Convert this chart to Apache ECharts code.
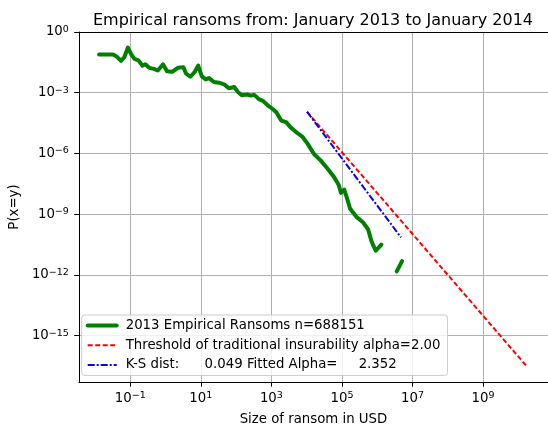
<!DOCTYPE html>
<html>
<head>
<meta charset="utf-8">
<script src="https://cdn.jsdelivr.net/npm/echarts@6/dist/echarts.min.js"></script>
<style>html,body{margin:0;padding:0;background:#fff}#c{width:548px;height:431px}</style>
</head>
<body>
<div id="c"></div>
<script>
// log10 of ransom size (USD) and log10 of P(x=y) for the empirical series (null = gap)
const empLogSize = [-1.885,-1.486,-1.391,-1.262,-1.167,-1.067,-0.972,-0.880,-0.768,-0.657,-0.573,-0.462,-0.330,-0.219,-0.071,0.041,0.189,0.348,0.507,0.580,0.702,0.822,0.926,1.026,1.138,1.233,1.372,1.512,1.660,1.791,1.947,2.050,2.162,2.302,2.422,2.517,2.645,2.757,2.888,3.036,3.139,3.279,3.418,3.538,3.650,3.725,3.884,4.024,4.208,4.395,4.582,4.766,4.906,4.973,5.065,5.140,5.232,5.419,5.603,5.743,5.838,5.958,6.117,6.330,6.552,6.703];
const empLogProb = [-1.107,-1.107,-1.205,-1.429,-1.234,-0.766,-1.107,-1.332,-1.400,-1.659,-1.595,-1.771,-1.820,-1.902,-1.595,-1.937,-1.966,-1.771,-1.741,-2.049,-2.210,-1.985,-1.659,-2.180,-2.341,-2.278,-2.473,-2.502,-2.585,-2.780,-2.717,-2.961,-3.122,-3.088,-3.137,-3.107,-3.317,-3.400,-3.610,-3.805,-3.966,-4.376,-4.454,-4.698,-4.863,-4.976,-5.185,-5.512,-6.024,-6.341,-6.732,-7.137,-7.546,-7.951,-7.790,-8.195,-8.732,-9.146,-9.415,-9.756,-10.341,-10.805,-10.502,null,-11.829,-11.317];
// threshold line (alpha = 2.00)
const thrLogSize = [4.01, 10.22];
const thrLogProb = [-3.94, -16.48];
// fitted power law (alpha = 2.352)
const fitLogSize = [4.01, 6.675];
const fitLogProb = [-3.94, -10.15];
// tick exponents
const xTickExp = [-1, 1, 3, 5, 7, 9];
const yTickExp = [0, -3, -6, -9, -12, -15];

const seriesNames = [
  '2013 Empirical Ransoms n=688151',
  'Threshold of traditional insurability alpha=2.00',
  'K-S dist:      0.049 Fitted Alpha=     2.352'
];

const FONT = 'DejaVu Sans';
const zip = (a, b) => a.map((v, i) => [v, b[i]]);
const fmt = v => {
  const e = Math.round(v);
  return '{b|10}{s|' + (e < 0 ? '\u2212' + (-e) : String(e)) + '}';
};
const rich = {
  b: {fontFamily: FONT, fontSize: 13.3, color: '#000', lineHeight: 15, verticalAlign: 'middle'},
  s: {fontFamily: FONT, fontSize: 9.5, color: '#000', lineHeight: 9, verticalAlign: 'top'}
};

const chart = echarts.init(document.getElementById('c'), null, {renderer: 'canvas'});
chart.setOption({
  animation: false,
  backgroundColor: '#fff',
  title: {
    text: 'Empirical ransoms from: January 2013 to January 2014',
    left: 308, top: 8, textAlign: 'center',
    textStyle: {fontFamily: FONT, fontSize: 16, fontWeight: 'normal', color: '#000'}
  },
  grid: {left: 74.5, top: 32, right: -3, bottom: 44.5, show: false},
  xAxis: [{
    type: 'value', min: -2.457, max: 10.84,
    name: 'Size of ransom in USD', nameLocation: 'middle', nameGap: 31,
    nameTextStyle: {fontFamily: FONT, fontSize: 13.3, color: '#000'},
    axisLine: {show: true, onZero: false, lineStyle: {color: '#000', width: 1}},
    axisTick: {show: true, customValues: xTickExp, length: 4.7, lineStyle: {color: '#000', width: 1}},
    axisLabel: {customValues: xTickExp, formatter: fmt, rich: rich, margin: 9},
    splitLine: {show: false}
  }, {
    type: 'value', position: 'top', min: -2.457, max: 10.84,
    axisLine: {show: true, onZero: false, lineStyle: {color: '#000', width: 1}},
    axisTick: {show: false}, axisLabel: {show: false}, splitLine: {show: false}
  }],
  yAxis: {
    type: 'value', min: -17.29, max: 0,
    name: 'P(x=y)', nameLocation: 'middle', nameGap: 49, nameRotate: 90,
    nameTextStyle: {fontFamily: FONT, fontSize: 13.3, color: '#000'},
    axisLine: {show: true, onZero: false, lineStyle: {color: '#000', width: 1}},
    axisTick: {show: true, customValues: yTickExp, length: 4.7, lineStyle: {color: '#000', width: 1}},
    axisLabel: {customValues: yTickExp, formatter: fmt, rich: rich, margin: 10},
    splitLine: {show: false}
  },
  legend: {
    data: [
      {name: seriesNames[0], lineStyle: {width: 4, color: '#008000'}},
      {name: seriesNames[1], lineStyle: {width: 2, color: '#ff0000', type: [5, 2.5]}},
      {name: seriesNames[2], lineStyle: {width: 2, color: '#0000ff', type: [7, 2, 2, 2]}}
    ],
    orient: 'vertical', left: 81.7, top: 315,
    padding: [4, 7, 4, 4], itemWidth: 29, itemHeight: 14, itemGap: 6.7,
    backgroundColor: 'rgba(255,255,255,0.8)', borderColor: '#cccccc', borderWidth: 1, borderRadius: 3,
    itemStyle: {opacity: 0},
    textStyle: {fontFamily: FONT, fontSize: 13.3, color: '#000', padding: [0, 0, 0, 4]}
  },
  series: [
    {
      name: '_grid', type: 'line', data: [], silent: true, z: 0,
      markLine: {
        silent: true, symbol: 'none', animation: false, z: 0,
        label: {show: false},
        lineStyle: {color: '#b0b0b0', width: 1, type: 'solid'},
        emphasis: {disabled: true},
        data: xTickExp.map(v => ({xAxis: v})).concat(yTickExp.map(v => ({yAxis: v})))
      }
    },
    {
      name: seriesNames[0], type: 'line', data: zip(empLogSize, empLogProb),
      showSymbol: false, symbol: 'none', connectNulls: false, z: 3,
      lineStyle: {color: '#008000', width: 4, cap: 'round', join: 'round'},
      itemStyle: {color: '#008000'}
    },
    {
      name: seriesNames[1], type: 'line', data: zip(thrLogSize, thrLogProb),
      showSymbol: false, symbol: 'none', z: 2,
      lineStyle: {color: '#ff0000', width: 2, type: [5, 2.5]},
      itemStyle: {color: '#ff0000'}
    },
    {
      name: seriesNames[2], type: 'line', data: zip(fitLogSize, fitLogProb),
      showSymbol: false, symbol: 'none', z: 2,
      lineStyle: {color: '#0000ff', width: 2, type: [7, 2, 2, 2]},
      itemStyle: {color: '#0000ff'}
    }
  ]
});
</script>
</body>
</html>
